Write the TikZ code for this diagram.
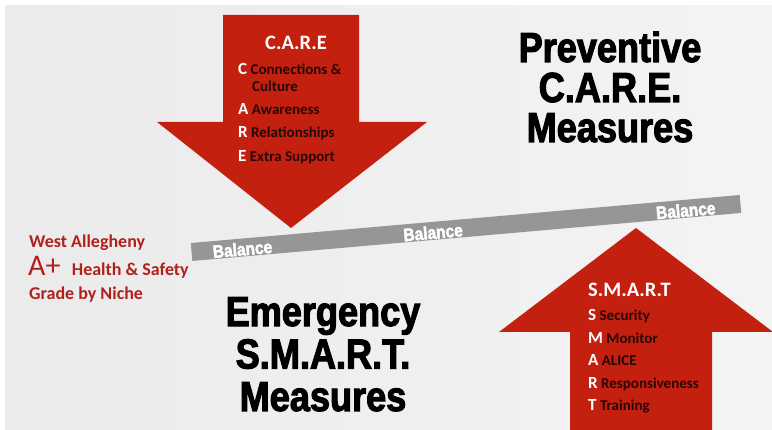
\documentclass[tikz,border=0pt]{standalone}
\usepackage{fontspec}
\setmainfont{Carlito}
\newfontfamily\impactfont{Liberation Sans}[FakeStretch=0.86,BoldFeatures={FakeBold=2.5}]
\usetikzlibrary{positioning,calc}
\definecolor{careRed}{RGB}{196,32,16}
\definecolor{wordDark}{RGB}{40,6,6}
\definecolor{noteRed}{RGB}{178,32,28}
\definecolor{barGray}{RGB}{150,150,150}
\newcommand{\capletter}[1]{{\fontsize{17}{17}\selectfont\color{white}#1}}
\tikzset{
    item/.style={anchor=base west, inner sep=0pt, text=wordDark,
        font=\bfseries\fontsize{15}{15}\selectfont},
    listhead/.style={anchor=base west, inner sep=0pt, text=white,
        font=\bfseries\fontsize{20.5}{20.5}\selectfont},
    bigtitle/.style={anchor=base, align=center, inner sep=0pt,
        font=\impactfont\bfseries\fontsize{42}{40}\selectfont},
    balance/.style={inner sep=0pt, text=white, rotate=5,
        font=\impactfont\bfseries\fontsize{18}{18}\selectfont},
    note/.style={anchor=base west, inner sep=0pt, text=noteRed,
        font=\bfseries\fontsize{18}{18}\selectfont}
}
\begin{document}
\begin{tikzpicture}[x=1pt,y=-1pt]
        %% Background
        \useasboundingbox (0,0) rectangle (772,430);
        \fill[white] (0,0) rectangle (772,430);
        \shade[left color=gray!16, middle color=gray!4, right color=gray!9] (5,6) rectangle (772,430);
        %% Arrows
        \fill[careRed] (223,15) -- (359,15) -- (359,122) -- (427,122) -- (291,228)
            -- (157,122) -- (223,122) -- cycle;
        \fill[careRed] (570,430) -- (570,332) -- (499,332) -- (636,228) -- (773,332)
            -- (712,332) -- (712,430) -- cycle;
        %% Balance bar
        \node[fill=barGray, minimum width=551pt, minimum height=18pt, inner sep=0pt, rotate=5]
            (bar) at (466,228) {};
        \node[balance] (bal1) at ($(bar.west)!0.093!(bar.east)+(0,1.5)$) {Balance};
        \node[balance] (bal2) at ($(bar.west)!0.44!(bar.east)+(0,1.5)$)  {Balance};
        \node[balance] (bal3) at ($(bar.west)!0.90!(bar.east)+(0,1.5)$)  {Balance};
        %% C.A.R.E list
        \node[listhead] (care)    at (265,50)  {C.A.R.E};
        \node[item]     (careC)   at (238,75)  {\capletter{C} Connections \&};
        \node[item]     (culture) at (252,92)  {Culture};
        \node[item]     (careA)   at (238,115) {\capletter{A} Awareness};
        \node[item]     (careR)   at (238,138) {\capletter{R} Relationships};
        \node[item]     (careE)   at (238,162) {\capletter{E} Extra Support};
        %% S.M.A.R.T list
        \node[listhead] (smart)   at (588,297) {S.M.A.R.T};
        \node[item]     (smartS)  at (588,321) {\capletter{S} Security};
        \node[item]     (smartM)  at (588,344) {\capletter{M} Monitor};
        \node[item]     (smartA)  at (588,366) {\capletter{A} ALICE};
        \node[item]     (smartR)  at (588,389) {\capletter{R} Responsiveness};
        \node[item]     (smartT)  at (588,411) {\capletter{T} Training};
        %% Titles (base = last line)
        \node[bigtitle] (prevent) at (610,142) {Preventive\\C.A.R.E.\\Measures};
        \node[bigtitle, font=\impactfont\bfseries\fontsize{42}{42.5}\selectfont]
            (emerg) at (323,411) {Emergency\\S.M.A.R.T.\\Measures};
        %% Grade note
        \node[note] (west)   at (29,248) {West Allegheny};
        \node[note, font=\fontsize{30}{30}\selectfont] (aplus) at (28,276) {A+};
        \node[note, base right=11pt of aplus] (health) {Health \& Safety};
        \node[note] (grade)  at (29,300) {Grade by Niche};
    \end{tikzpicture}
\end{document}
